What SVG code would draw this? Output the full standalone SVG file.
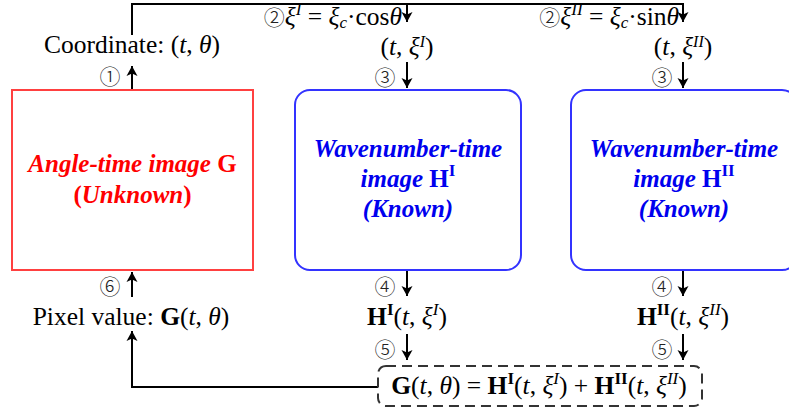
<svg xmlns="http://www.w3.org/2000/svg" width="789" height="414" viewBox="0 0 789 414">
<defs>
<marker id="ah" viewBox="0 0 10 12" refX="10" refY="6" markerWidth="10" markerHeight="12" markerUnits="userSpaceOnUse" orient="auto">
<path d="M0,0.5 L10,6 L0,11.5 L2.5,6 Z" fill="#000"/>
</marker>
<style>
.m{font-family:"Liberation Serif","Times New Roman",serif;font-size:25.5px;fill:#000}
.i{font-style:italic}
.b{font-weight:bold}
.c{font-family:"Noto Sans CJK SC","DejaVu Sans",sans-serif;font-size:21px;fill:#222;font-weight:300}
.ln{fill:none;stroke:#000;stroke-width:2}
.lbl{font-family:"Liberation Serif","Times New Roman",serif;font-size:25px;font-weight:bold;font-style:italic;text-anchor:middle}
</style>
</defs>
<rect width="789" height="414" fill="#fff"/>
<g id="connectors">
<path class="ln" d="M132,35 V4 H683 V22" marker-end="url(#ah)"/>
<path class="ln" d="M407,4 V22" marker-end="url(#ah)"/>
<path class="ln" d="M132,90 V66" marker-end="url(#ah)"/>
<path class="ln" d="M407,62 V88" marker-end="url(#ah)"/>
<path class="ln" d="M683,62 V88" marker-end="url(#ah)"/>
<path class="ln" d="M407,270 V296" marker-end="url(#ah)"/>
<path class="ln" d="M683,270 V296" marker-end="url(#ah)"/>
<path class="ln" d="M407,334 V360" marker-end="url(#ah)"/>
<path class="ln" d="M683,334 V360" marker-end="url(#ah)"/>
<path class="ln" d="M132,297 V272" marker-end="url(#ah)"/>
<path class="ln" d="M378,387 H132 V331" marker-end="url(#ah)"/>
</g>
<g id="labels">
<text class="m" x="132" y="53" text-anchor="middle">Coordinate: (<tspan class="i">t</tspan>, <tspan class="i">θ</tspan>)</text>
<text class="c" x="110" y="84" text-anchor="middle">①</text>
<text class="m" x="402" y="25" text-anchor="end"><tspan class="c" font-size="20">②</tspan><tspan class="i">ξ</tspan><tspan class="i" font-size="17" dy="-10">I</tspan><tspan dy="10"> = </tspan><tspan class="i">ξ</tspan><tspan class="i" font-size="17" dy="3">c</tspan><tspan dy="-3">·cos</tspan><tspan class="i">θ</tspan></text>
<text class="m" x="679" y="25" text-anchor="end"><tspan class="c" font-size="20">②</tspan><tspan class="i">ξ</tspan><tspan class="i" font-size="17" dy="-10">II</tspan><tspan dy="10"> = </tspan><tspan class="i">ξ</tspan><tspan class="i" font-size="17" dy="3">c</tspan><tspan dy="-3">·sin</tspan><tspan class="i">θ</tspan></text>
<text class="m" x="407" y="55" text-anchor="middle">(<tspan class="i">t</tspan>, <tspan class="i">ξ</tspan><tspan class="i" font-size="16" dy="-8">I</tspan><tspan dy="8">)</tspan></text>
<text class="m" x="683" y="55" text-anchor="middle">(<tspan class="i">t</tspan>, <tspan class="i">ξ</tspan><tspan class="i" font-size="16" dy="-8">II</tspan><tspan dy="8">)</tspan></text>
<text class="c" x="385" y="85" text-anchor="middle">③</text>
<text class="c" x="662" y="85" text-anchor="middle">③</text>
<text class="c" x="385" y="294" text-anchor="middle">④</text>
<text class="c" x="662" y="294" text-anchor="middle">④</text>
<text class="c" x="385" y="357" text-anchor="middle">⑤</text>
<text class="c" x="662" y="357" text-anchor="middle">⑤</text>
<text class="c" x="110" y="294" text-anchor="middle">⑥</text>
<text class="m" x="131" y="325" text-anchor="middle">Pixel value: <tspan class="b">G</tspan>(<tspan class="i">t</tspan>, <tspan class="i">θ</tspan>)</text>
<text class="m" x="407" y="325" text-anchor="middle"><tspan class="b">H</tspan><tspan class="b" font-size="17" dy="-10">I</tspan><tspan dy="10">(</tspan><tspan class="i">t</tspan>, <tspan class="i">ξ</tspan><tspan class="i" font-size="17" dy="-10">I</tspan><tspan dy="10">)</tspan></text>
<text class="m" x="683" y="325" text-anchor="middle"><tspan class="b">H</tspan><tspan class="b" font-size="17" dy="-10">II</tspan><tspan dy="10">(</tspan><tspan class="i">t</tspan>, <tspan class="i">ξ</tspan><tspan class="i" font-size="17" dy="-10">II</tspan><tspan dy="10">)</tspan></text>
</g>
<g id="node-G">
<rect x="12" y="90" width="241" height="180" fill="none" stroke="#ff4040" stroke-width="2"/>
<text class="lbl" x="132.5" y="172" fill="#ff0000">Angle-time image <tspan font-style="normal">G</tspan></text>
<text class="lbl" x="132.5" y="203" fill="#ff0000"><tspan font-style="normal">(</tspan>Unknown<tspan font-style="normal">)</tspan></text>
</g>
<g id="node-HI">
<rect x="295" y="90" width="226" height="180" rx="15" fill="none" stroke="#3333ff" stroke-width="2"/>
<text class="lbl" x="408" y="157" fill="#0000ee">Wavenumber-time</text>
<text class="lbl" x="408" y="187" fill="#0000ee">image <tspan font-style="normal">H</tspan><tspan font-style="normal" font-size="17" dy="-11">I</tspan></text>
<text class="lbl" x="408" y="217" fill="#0000ee">(Known)</text>
</g>
<g id="node-HII">
<rect x="571" y="90" width="226" height="180" rx="15" fill="none" stroke="#3333ff" stroke-width="2"/>
<text class="lbl" x="684" y="157" fill="#0000ee">Wavenumber-time</text>
<text class="lbl" x="684" y="187" fill="#0000ee">image <tspan font-style="normal">H</tspan><tspan font-style="normal" font-size="17" dy="-11">II</tspan></text>
<text class="lbl" x="684" y="217" fill="#0000ee">(Known)</text>
</g>
<g id="node-sum">
<rect x="378" y="366" width="324" height="40" rx="8" fill="none" stroke="#333" stroke-width="2" stroke-dasharray="10,6"/>
<text class="m" x="539" y="394" text-anchor="middle"><tspan class="b">G</tspan>(<tspan class="i">t</tspan>, <tspan class="i">θ</tspan>) = <tspan class="b">H</tspan><tspan class="b" font-size="17" dy="-10">I</tspan><tspan dy="10">(</tspan><tspan class="i">t</tspan>, <tspan class="i">ξ</tspan><tspan class="i" font-size="17" dy="-10">I</tspan><tspan dy="10">) + </tspan><tspan class="b">H</tspan><tspan class="b" font-size="17" dy="-10">II</tspan><tspan dy="10">(</tspan><tspan class="i">t</tspan>, <tspan class="i">ξ</tspan><tspan class="i" font-size="17" dy="-10">II</tspan><tspan dy="10">)</tspan></text>
</g>
</svg>
